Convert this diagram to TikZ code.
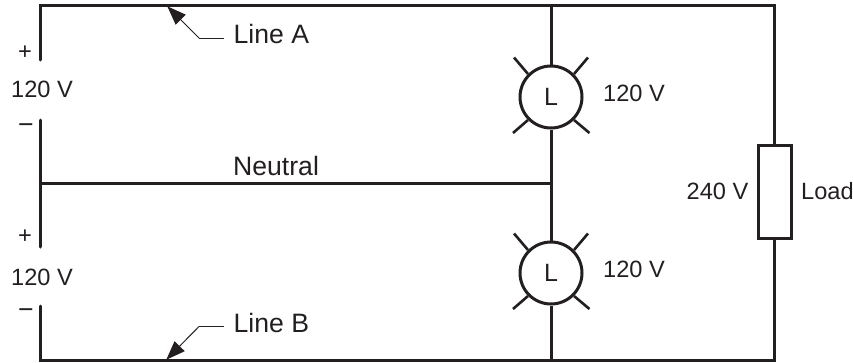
\documentclass[tikz,border=0pt]{standalone}
\usepackage{fontspec}
\setmainfont{Liberation Sans}
\usetikzlibrary{arrows.meta}
\definecolor{ink}{HTML}{231F20}
\tikzset{
  wire/.style={draw=ink,line width=3pt},
  ray/.style={draw=ink,line width=2.6pt},
  lamp/.style={circle,draw=ink,line width=3pt,minimum size=62pt,inner sep=0pt,fill=white,text=ink,font=\fontsize{25}{27}\selectfont},
  loadbox/.style={rectangle,draw=ink,line width=3pt,minimum width=33pt,minimum height=93pt,inner sep=0pt,fill=white},
  lbl/.style={text=ink,inner sep=0pt,font=\fontsize{23.6}{25}\selectfont},
  biglbl/.style={text=ink,inner sep=0pt,font=\fontsize{26.6}{28}\selectfont},
  leader/.style={draw=ink,line width=1pt},
  leadertip/.style={draw=ink,line width=1pt,-{Triangle[length=19pt,width=14pt]},shorten >=-1pt}
}
\begin{document}
\begin{tikzpicture}[x=1pt,y=-1pt]
\useasboundingbox (0,0) rectangle (853,362);
% corners and plate ends
\coordinate (tl) at (40.5,5.5);
\coordinate (tm) at (551,5.5);
\coordinate (tr) at (774.5,5.5);
\coordinate (bl) at (40.5,360);
\coordinate (bm) at (551,360);
\coordinate (br) at (774.5,360);
\coordinate (p1) at (40.5,60);
\coordinate (p2) at (40.5,120);
\coordinate (p3) at (40.5,247);
\coordinate (p4) at (40.5,306);
\coordinate (nl) at (40.5,183);
\coordinate (nr) at (551,183);
% lamps and load
\node[lamp] (lamp1) at (551,97) {L};
\node[lamp] (lamp2) at (551,273) {L};
\node[loadbox] (load) at (774.5,192) {};
% wires
\draw[wire,line cap=round] (p1) -- (tl) -- (tr) -- (load.north);
\draw[wire,line cap=round] (p4) -- (bl) -- (br) -- (load.south);
\draw[wire,line cap=round] (p2) -- (p3);
\draw[wire] (nl) -- (nr);
\draw[wire] (tm) -- (lamp1.north);
\draw[wire] (lamp1.south) -- (lamp2.north);
\draw[wire] (lamp2.south) -- (bm);
% rays
\foreach \n/\cy in {lamp1/97,lamp2/273}{
  \coordinate (\n a) at (514,\cy-39.5);
  \coordinate (\n b) at (588,\cy-39.5);
  \coordinate (\n c) at (513,\cy+36);
  \coordinate (\n d) at (589.5,\cy+36);
  \draw[ray] (\n a) -- (\n.135);
  \draw[ray] (\n b) -- (\n.45);
  \draw[ray] (\n c) -- (\n.225);
  \draw[ray] (\n d) -- (\n.315);
}
% labels
\node[lbl] (plusa) at (25,53) {+};
\node[lbl] (va) at (42,89) {120 V};
\node[biglbl] (minusa) at (26,129) {\char"2212};
\node[lbl] (plusb) at (25,237) {+};
\node[lbl] (vb) at (42,277) {120 V};
\node[biglbl] (minusb) at (26,314) {\char"2212};
\node[biglbl,anchor=base west] (linea) at (233.5,43) {Line A};
\node[biglbl,anchor=base west] (lineb) at (233.5,332) {Line B};
\node[biglbl,anchor=base west] (neutral) at (233,175) {Neutral};
\node[lbl] (vl1) at (634,93) {120 V};
\node[lbl] (vl2) at (634,269) {120 V};
\node[lbl] (v240) at (717.5,191) {240 V};
\node[lbl,anchor=west] (loadl) at (801,191) {Load};
% leaders
\coordinate (ka) at (199,38);
\coordinate (kb) at (199,326.5);
\coordinate (ea) at (224,38);
\coordinate (eb) at (224,326.5);
\coordinate (ta) at (168,7);
\coordinate (tb) at (167,359);
\draw[leader] (ea) -- (ka);
\draw[leader] (eb) -- (kb);
\draw[leadertip] (ka) -- (ta);
\draw[leadertip] (kb) -- (tb);
\end{tikzpicture}
\end{document}
